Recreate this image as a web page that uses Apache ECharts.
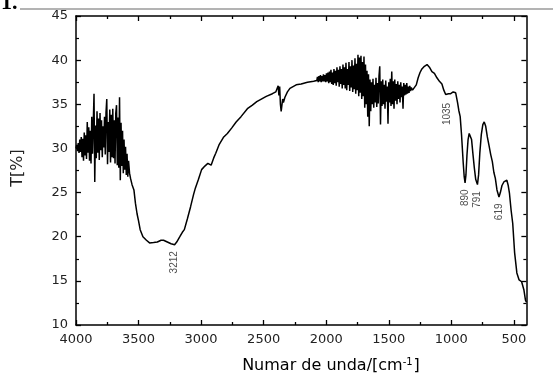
<!DOCTYPE html>
<html>
<head>
<meta charset="utf-8">
<script src="https://cdn.jsdelivr.net/npm/echarts@6/dist/echarts.min.js"></script>
<style>
html,body{margin:0;padding:0;background:#fff;}
#chart{width:553px;height:378px;}
</style>
</head>
<body>
<div id="chart"></div>
<script>
// Wavenumbers (cm-1) and transmittance (%)
const wavenumbers = [
4000,3994,3988,3982,3976,3970,3964,3958,3952,3946,3940,3934,3928,3922,3916,3910,3904,3898,3892,3886,3880,3874,3868,3862,3856,3850,3844,3838,3832,3826,3820,3814,3808,3802,3796,3790,3784,3778,3772,3766,3760,3754,3748,3742,3736,3730,3724,3718,3712,3706,3700,3694,3688,3682,3676,3670,3664,3658,3652,3646,3640,3634,3628,3622,3616,3610,3604,3598,3592,3586,3580,3572,3564,3552,3537,3525,3512,3500,3487,3465,3437,3412,3380,3350,3320,3300,3270,3240,3212,3195,3170,3150,3134,3110,3084,3060,3046,3021,2996,2970,2946,2920,2900,2883,2857,2819,2790,2756,2720,2681,2630,2590,2555,2479,2430,2403,2390,2384,2378,2372,2366,2360,2354,2348,2342,2330,2310,2290,2240,2200,2150,2100,2075,
2070,2064,2058,2052,2046,2040,2034,2028,2022,2016,2010,2004,1998,1992,1986,1980,1974,1968,1962,1956,1950,1944,1938,1932,1926,1920,1914,1908,1902,1896,1890,1884,1878,1872,1866,1860,1854,1848,1842,1836,1830,1824,1818,1812,1806,1800,1794,1788,1782,1776,1770,1764,1758,1752,1746,1740,1734,1728,1722,1716,1710,1704,1698,1692,1686,1680,1674,1668,1662,1656,1650,1644,1638,1632,1626,1620,1614,1608,1602,1596,1590,1584,1578,1572,1566,1560,1554,1548,1542,1536,1530,1524,1518,1512,1506,1500,1494,1488,1482,1476,1470,1464,1458,1452,1446,1440,1434,1428,1422,1416,1410,1404,1398,1392,1386,1380,1374,1368,1362,1356,1350,1344,1338,1332,1326,1320,1310,1295,1280,
1265,1250,1235,1215,1194,1175,1155,1135,1115,1095,1075,1060,1045,1035,1022,1005,985,965,950,940,929,918,905,897,890,883,875,866,857,848,838,828,816,805,791,782,772,760,748,737,725,712,698,685,672,660,648,635,619,608,595,580,565,556,545,535,522,509,494,476,458,438,420,407,400
];
const transmittance = [
30.0,30.4,29.7,30.6,29.5,31.0,29.6,31.3,29.0,31.1,28.6,31.8,29.2,31.5,28.8,33.0,29.5,32.4,28.6,32.0,28.3,33.6,29.4,32.8,36.2,26.2,32.6,28.9,34.2,29.5,33.4,28.7,34.0,29.8,33.2,29.0,32.5,30.1,33.6,29.3,34.1,35.6,28.2,33.0,29.6,34.4,28.4,33.8,29.0,34.5,28.9,33.2,28.3,34.0,34.9,28.1,33.5,27.8,35.8,26.4,32.9,28.0,32.0,27.2,31.0,27.6,30.2,27.0,29.4,26.8,28.6,27.2,26.6,25.9,25.3,23.8,22.6,21.8,20.8,20.0,19.6,19.3,19.35,19.4,19.6,19.6,19.4,19.2,19.1,19.4,20.0,20.5,20.8,22.0,23.4,24.8,25.5,26.5,27.6,28.0,28.3,28.1,28.9,29.45,30.4,31.3,31.7,32.3,33.0,33.6,34.5,34.9,35.3,35.9,36.2,36.4,36.5,37.1,36.0,37.0,35.0,34.2,34.1,35.6,35.2,35.8,36.4,36.8,37.2,37.3,37.5,37.6,37.7,
38.1,37.5,38.2,37.6,38.3,37.5,38.2,37.6,38.4,37.6,38.3,37.5,38.5,37.6,38.6,37.4,38.7,37.5,38.9,37.3,38.6,37.2,39.0,37.4,38.8,37.1,39.2,37.5,38.9,37.0,39.3,37.3,39.0,36.8,39.5,37.2,39.2,36.8,39.7,36.6,39.0,37.2,39.8,36.5,39.3,36.9,40.0,36.4,39.4,36.7,40.2,36.2,39.6,36.6,40.6,35.9,40.3,36.3,40.5,35.6,39.8,35.9,40.4,34.6,39.5,35.0,38.8,33.6,38.4,32.5,37.8,34.2,37.5,35.0,37.9,34.6,37.2,35.2,38.0,34.7,37.4,35.1,38.2,39.3,32.7,37.6,34.8,37.8,35.0,37.2,34.5,37.7,35.3,37.0,32.8,37.5,35.2,37.9,34.8,38.7,35.0,37.6,34.5,37.8,35.4,37.3,35.0,37.6,35.6,37.2,35.2,37.5,35.8,37.0,34.5,37.4,36.0,37.2,36.1,37.4,36.2,37.0,36.3,37.1,36.5,36.9,36.6,36.8,37.2,
38.0,38.6,39.0,39.3,39.5,39.2,38.7,38.5,38.0,37.6,37.3,36.6,36.1,35.9,36.2,36.2,36.4,36.3,35.2,34.3,33.6,31.5,28.4,26.8,26.1,27.0,29.2,31.0,31.7,31.8,31.0,29.5,27.8,26.5,25.9,27.0,29.5,31.6,32.7,33.0,32.5,31.3,30.3,29.3,28.5,27.3,26.6,25.3,24.5,25.0,25.8,26.2,26.4,26.4,25.8,24.9,23.0,21.5,18.2,15.9,15.1,14.9,14.0,12.8,12.6
];
// Labelled band positions
const peakLabels = [3212, 1035, 890, 791, 619];
// Axis ticks
const xMajorTicks = [4000,3500,3000,2500,2000,1500,1000,500];
const xMinorTicks = [3750,3250,2750,2250,1750,1250,750];

const seriesData = wavenumbers.map((w, i) => [w, transmittance[i]]);
const peakData = peakLabels.map(w => [w, transmittance[wavenumbers.indexOf(w)]]);

const axisColor = '#000';
const labelFont = 'DejaVu Sans';

function xAxisDef(position, ticks, len, showLine, showLabel) {
  return {
    type: 'value', position: position, inverse: true, min: 400, max: 4000,
    axisLine: {show: showLine, onZero: false, lineStyle: {color: axisColor, width: 1.5}},
    axisTick: {show: true, inside: true, length: len, customValues: ticks, lineStyle: {color: axisColor, width: 1.3}},
    axisLabel: {show: showLabel, customValues: ticks, margin: 8, color: '#222', fontSize: 13, fontFamily: labelFont,
      formatter: v => String(v)},
    splitLine: {show: false}
  };
}
function yAxisDef(position, showLabel) {
  return {
    type: 'value', position: position, min: 10, max: 45, interval: 5,
    axisLine: {show: true, onZero: false, lineStyle: {color: axisColor, width: 1.5}},
    axisTick: {show: true, inside: true, length: 5, lineStyle: {color: axisColor, width: 1.3}},
    minorTick: {show: true, splitNumber: 2, length: 3, lineStyle: {color: axisColor, width: 1.2}},
    axisLabel: {show: showLabel, margin: 8, color: '#222', fontSize: 13, fontFamily: labelFont},
    splitLine: {show: false}, minorSplitLine: {show: false}
  };
}

const chart = echarts.init(document.getElementById('chart'), null, {renderer: 'canvas'});
chart.setOption({
  animation: false,
  backgroundColor: '#fff',
  grid: {left: 76, right: 1.5, top: 16, bottom: 53, containLabel: false},
  xAxis: [
    xAxisDef('bottom', xMajorTicks, 5, true, true),
    xAxisDef('bottom', xMinorTicks, 3, false, false),
    xAxisDef('top', xMajorTicks, 5, true, false),
    xAxisDef('top', xMinorTicks, 3, false, false)
  ],
  yAxis: [yAxisDef('left', true), yAxisDef('right', false)],
  series: [
    {
      type: 'line', xAxisIndex: 0, yAxisIndex: 0, data: seriesData,
      showSymbol: false, symbol: 'none',
      lineStyle: {color: '#000', width: 1.5}, z: 3
    },
    {
      type: 'scatter', xAxisIndex: 0, yAxisIndex: 0, data: peakData,
      symbolSize: 1, itemStyle: {color: 'rgba(0,0,0,0)'}, silent: true,
      label: {
        show: true, formatter: p => String(p.value[0]), position: 'bottom', distance: 6,
        rotate: 90, align: 'right', verticalAlign: 'middle',
        fontSize: 10, fontFamily: 'Liberation Sans', color: '#222'
      }
    }
  ],
  graphic: [
    {type: 'line', shape: {x1: 20, y1: 9, x2: 553, y2: 9}, style: {stroke: '#9a9a9a', lineWidth: 1.5}},
    {type: 'text', left: 1, top: -8, style: {text: '1.', font: 'bold 22px "Liberation Serif"', fill: '#000'}},
    {type: 'text', x: 18, y: 168, rotation: Math.PI / 2,
      style: {text: 'T[%]', font: '16px "DejaVu Sans"', fill: '#222', align: 'center', verticalAlign: 'middle'}},
    {type: 'text', x: 331, y: 366,
      style: {
        text: '{b|Numar de unda/[cm}{s|-1}{b|]}', align: 'center', verticalAlign: 'middle',
        rich: {
          b: {fontSize: 16, fontFamily: 'DejaVu Sans', color: '#222'},
          s: {fontSize: 10, fontFamily: 'DejaVu Sans', color: '#222', verticalAlign: 'top', padding: [0, 1, 8, 0]}
        }
      }}
  ]
});
</script>
</body>
</html>
